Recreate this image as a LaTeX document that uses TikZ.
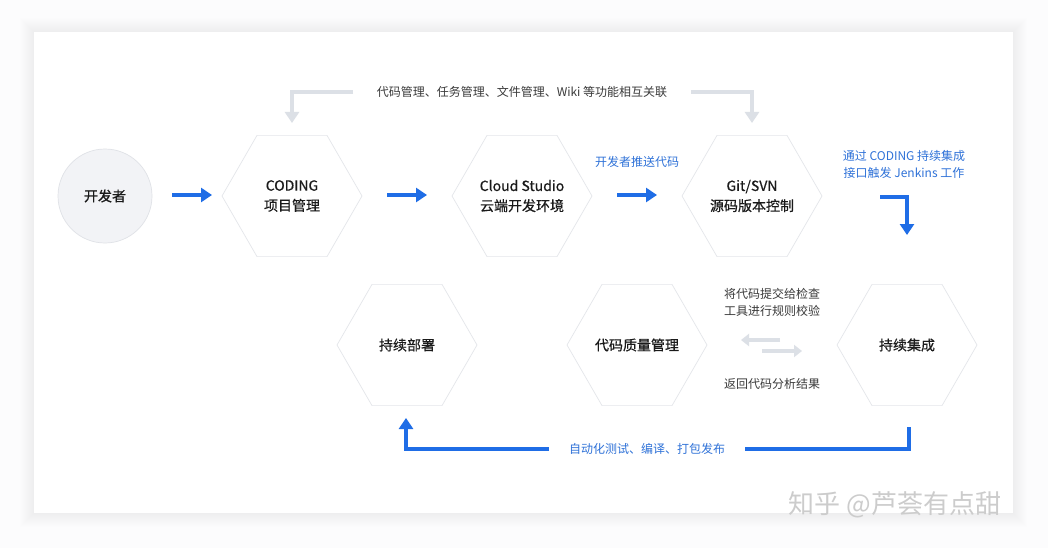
\documentclass[tikz,border=0pt]{standalone}
\usepackage{fontspec}
\setmainfont{Noto Sans CJK SC}
\newfontfamily\medfont{Noto Sans CJK SC}[FakeBold=0.5]
\usetikzlibrary{shapes.geometric,arrows.meta}
\definecolor{bgcol}{HTML}{FCFCFD}
\definecolor{hexline}{HTML}{E4E6EA}
\definecolor{maintext}{HTML}{1A1A1A}
\definecolor{subtext}{HTML}{3A3A3A}
\definecolor{flowblue}{HTML}{1F6DE6}
\definecolor{bluetext}{HTML}{2F72D8}
\definecolor{flowgray}{HTML}{DCE0E6}
\definecolor{devfill}{HTML}{F2F3F6}
\definecolor{devline}{HTML}{E0E2E7}
\definecolor{shadowcol}{HTML}{9AA0AA}
\begin{document}
\begin{tikzpicture}[x=1pt,y=-1pt,
  hexbox/.style={regular polygon, regular polygon sides=6, minimum size=140pt,
    inner sep=0pt, draw=hexline, line width=0.7pt, text=maintext, align=center,
    font=\medfont\fontsize{14}{20}\selectfont},
  devbox/.style={circle, minimum size=94pt, inner sep=0pt, fill=devfill, draw=devline,
    line width=0.7pt, text=maintext, font=\medfont\fontsize{14}{20}\selectfont},
  hint/.style={text=subtext, align=center, inner sep=0pt, font=\fontsize{12}{17}\selectfont},
  bluehint/.style={text=bluetext, align=center, inner sep=0pt, font=\fontsize{12}{17}\selectfont},
  barrow/.style={line width=4pt, draw=flowblue, -{Triangle[length=11pt,width=14pt]}},
  bline/.style={line width=4pt, draw=flowblue},
  garrow/.style={line width=4pt, draw=flowgray, -{Triangle[length=11pt,width=14pt]}},
  gsmall/.style={line width=4pt, draw=flowgray, -{Triangle[length=8pt,width=12pt]}}]
  % background and card
  \fill[bgcol] (0,0) rectangle (1048,548);
  \foreach \i in {1,...,14} {
    \fill[shadowcol, opacity=0.006] (34-\i,32-\i) rectangle (1013+\i,513+\i);
  }
  \fill[white] (34,32) rectangle (1013,513);
  % nodes
  \node[devbox] (dev) at (105,196) {开发者};
  \node[hexbox] (coding) at (292,196) {CODING\\项目管理};
  \node[hexbox] (cloud) at (522,196) {Cloud Studio\\云端开发环境};
  \node[hexbox] (git) at (752,196) {Git/SVN\\源码版本控制};
  \node[hexbox] (cd) at (407,345) {持续部署};
  \node[hexbox] (quality) at (637,345) {代码质量管理};
  \node[hexbox] (ci) at (907,345) {持续集成};
  % hints
  \node[hint] (toph) at (522,92) {代码管理、任务管理、文件管理、Wiki 等功能相互关联};
  \node[bluehint] (push) at (637,162) {开发者推送代码};
  \node[bluehint] (jenk) at (904,164) {通过 CODING 持续集成\\接口触发 Jenkins 工作};
  \node[hint] (check) at (772,302) {将代码提交给检查\\工具进行规则校验};
  \node[hint] (back) at (772,384) {返回代码分析结果};
  \node[bluehint] (auto) at (647,449) {自动化测试、编译、打包发布};
  \node[text=gray!40, font=\fontsize{26}{30}\selectfont, inner sep=0pt] (wm) at (895,505) {知乎 @芦荟有点甜};
  % coordinates
  \coordinate (a1s) at (172,195); \coordinate (a1e) at (212,195);
  \coordinate (a2s) at (387,195); \coordinate (a2e) at (427,195);
  \coordinate (a3s) at (617,195); \coordinate (a3e) at (657,195);
  \coordinate (gls) at (353,92); \coordinate (gle) at (292,123);
  \coordinate (grs) at (691,92); \coordinate (gre) at (752,123);
  \coordinate (jas) at (880,197); \coordinate (jae) at (907,235);
  \coordinate (bs) at (909,427); \coordinate (bm) at (745,449);
  \coordinate (bls) at (549,449); \coordinate (ble) at (406,418);
  \coordinate (m1s) at (780,340); \coordinate (m1e) at (741,340);
  \coordinate (m2s) at (762,351); \coordinate (m2e) at (802,351);
  % connectors
  \draw[barrow] (a1s) -- (a1e);
  \draw[barrow] (a2s) -- (a2e);
  \draw[barrow] (a3s) -- (a3e);
  \draw[garrow] (gls) -| (gle);
  \draw[garrow] (grs) -| (gre);
  \draw[barrow] (jas) -| (jae);
  \draw[bline] (bs) |- (bm);
  \draw[barrow] (bls) -| (ble);
  \draw[gsmall] (m1s) -- (m1e);
  \draw[gsmall] (m2s) -- (m2e);
\end{tikzpicture}
\end{document}
